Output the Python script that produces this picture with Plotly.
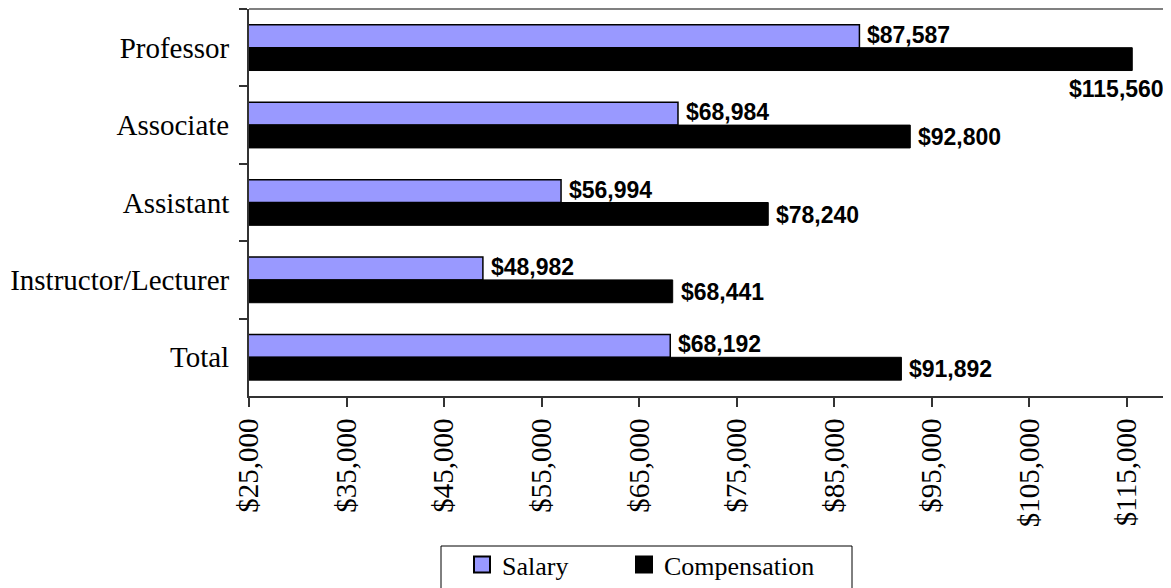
import plotly.graph_objects as go

categories = ["Professor", "Associate", "Assistant", "Instructor/Lecturer", "Total"]
salary = [87587, 68984, 56994, 48982, 68192]
compensation = [115560, 92800, 78240, 68441, 91892]
x_tickvals = [25000, 35000, 45000, 55000, 65000, 75000, 85000, 95000, 105000, 115000]
x_ticktext = ["$25,000", "$35,000", "$45,000", "$55,000", "$65,000", "$75,000",
              "$85,000", "$95,000", "$105,000", "$115,000"]

SERIF = "Liberation Serif"
SANS = "Liberation Sans"
SAL_COLOR = "#9999FF"
COMP_COLOR = "black"

# plot area geometry (page pixels): left 249, top 9, bottom 396, width 922
PL, PT, PB, PW = 249, 9, 396, 922
PH = PB - PT

def px_x(p):
    return (p - PL) / PW

def px_y(p):
    return (PB - p) / PH

fig = go.Figure()
fig.add_trace(go.Bar(
    y=categories, x=salary, orientation="h", name="Salary", showlegend=False,
    marker=dict(color=SAL_COLOR, line=dict(color="black", width=1.5)),
))
fig.add_trace(go.Bar(
    y=categories, x=compensation, orientation="h", name="Compensation", showlegend=False,
    marker=dict(color=COMP_COLOR, line=dict(color="black", width=1)),
))
# legend keys
fig.add_trace(go.Scatter(x=[None], y=[None], mode="markers", name="Salary", legend="legend",
                         marker=dict(symbol="square", size=17, color=SAL_COLOR,
                                     line=dict(color="black", width=2))))
fig.add_trace(go.Scatter(x=[None], y=[None], mode="markers", name="Compensation", legend="legend2",
                         marker=dict(symbol="square", size=17, color=COMP_COLOR,
                                     line=dict(color="black", width=2))))

def fmt(v):
    return f"${v:,}"

LBL = dict(family=SANS, size=23, color="black")
annotations = []
for c, v in zip(categories, salary):
    annotations.append(dict(x=v, y=c, xref="x", yref="y", text=f"<b>{fmt(v)}</b>",
                            showarrow=False, xanchor="left", yanchor="middle",
                            xshift=6, yshift=13, font=LBL))
xmax = 119533
for c, v in zip(categories, compensation):
    if v > 110000:
        annotations.append(dict(x=v, y=c, xref="x", yref="y", text=f"<b>{fmt(v)}</b>",
                                showarrow=False, xanchor="right", yanchor="middle",
                                xshift=34, yshift=-41, font=LBL))
    else:
        annotations.append(dict(x=v, y=c, xref="x", yref="y", text=f"<b>{fmt(v)}</b>",
                                showarrow=False, xanchor="left", yanchor="middle",
                                xshift=6, yshift=-12, font=LBL))

def leg(xpx):
    return dict(orientation="h", xanchor="left", yanchor="top", y=px_y(541), x=px_x(xpx),
                borderwidth=0, bgcolor="rgba(0,0,0,0)", itemwidth=30,
                font=dict(family=SERIF, size=26, color="black"))

fig.update_layout(
    width=1163, height=580,
    margin=dict(l=241, r=0, t=1, b=192, autoexpand=False),
    font=dict(family=SERIF, color="black"),
    paper_bgcolor="white", plot_bgcolor="white",
    barmode="group", bargap=0.41, bargroupgap=0,
    showlegend=True,
    legend=leg(462),
    legend2=leg(624),
    annotations=annotations,
    shapes=[
        dict(type="line", xref="paper", yref="paper", x0=0, x1=1, y0=1, y1=1,
             line=dict(color="#808080", width=2)),
        dict(type="rect", xref="paper", yref="paper", x0=px_x(441), x1=px_x(852),
             y0=px_y(546), y1=px_y(600), line=dict(color="black", width=1),
             fillcolor="rgba(0,0,0,0)", layer="below"),
    ],
)
fig.update_xaxes(
    range=[25000, xmax], tickvals=x_tickvals, ticktext=x_ticktext, tickangle=-90,
    showgrid=False, zeroline=False, showline=True, linecolor="#333333", linewidth=2,
    ticks="outside", ticklen=9, tickwidth=1.5, tickcolor="#333333", automargin=False,
    tickfont=dict(family=SERIF, size=29, color="black"),
)
fig.update_yaxes(
    range=[len(categories) - 0.5, -0.5], showgrid=False, zeroline=False, showline=True,
    linecolor="#333333", linewidth=2, ticks="outside", ticklen=8, tickwidth=1.5,
    tickcolor="#333333", tickson="boundaries", ticklabelstandoff=12, automargin=False,
    tickfont=dict(family=SERIF, size=29, color="black"),
)
fig.write_html("out.html")
